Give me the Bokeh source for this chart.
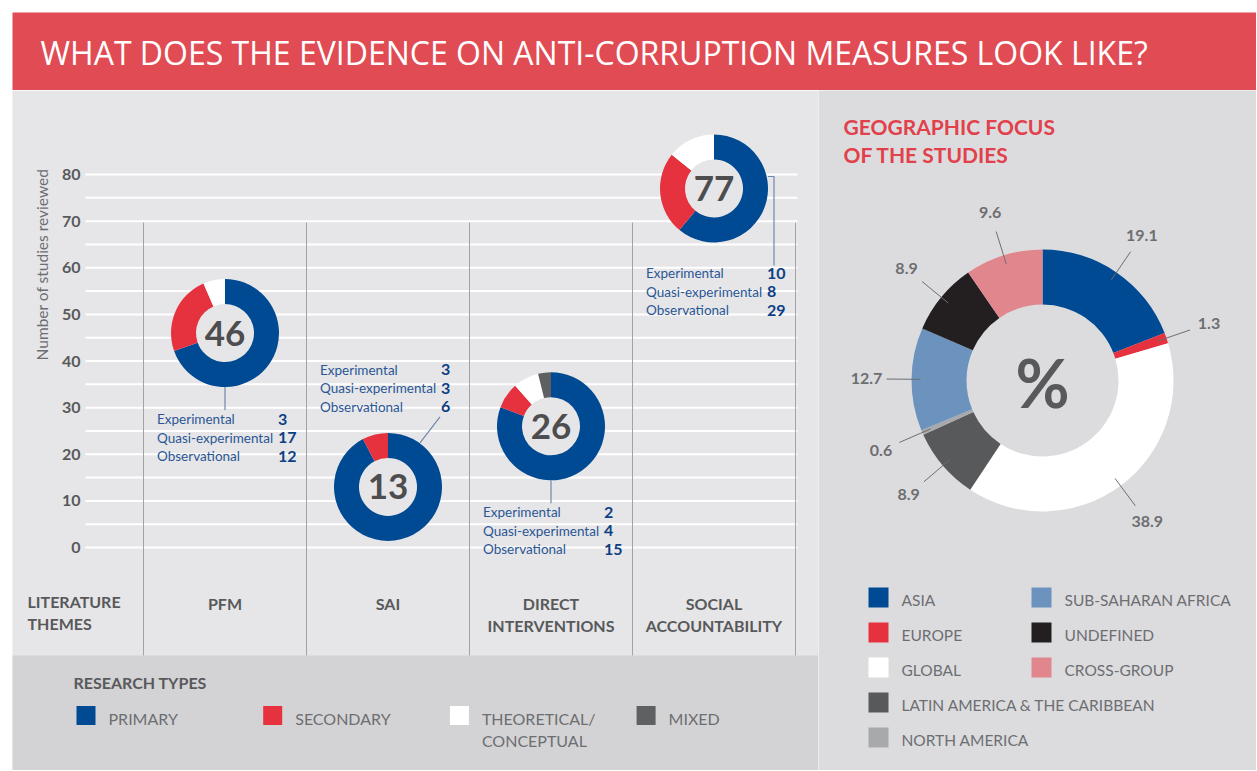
import math
from bokeh.plotting import figure
from bokeh.models import Range1d, LinearAxis, FixedTicker, ColumnDataSource
from bokeh.layouts import column, row
from bokeh.embed import file_html
from bokeh.resources import INLINE
from bokeh.core.properties import value

# ---------------- data ----------------
title_text = "WHAT DOES THE EVIDENCE ON ANTI-CORRUPTION MEASURES LOOK LIKE?"
theme_header = "LITERATURE\nTHEMES"
themes = ["PFM", "SAI", "DIRECT\nINTERVENTIONS", "SOCIAL\nACCOUNTABILITY"]
totals = [46, 13, 26, 77]
primary = [32, 12, 21, 47]
secondary = [11, 1, 2, 19]
theoretical = [3, 0, 2, 11]
mixed = [0, 0, 1, 0]
design_names = ["Experimental", "Quasi-experimental", "Observational"]
experimental = [3, 3, 2, 10]
quasi_experimental = [17, 3, 4, 8]
observational = [12, 6, 15, 29]
y_ticks = [0, 10, 20, 30, 40, 50, 60, 70, 80]
y_axis_title = "Number of studies reviewed"
research_title = "RESEARCH TYPES"
research_types = ["PRIMARY", "SECONDARY", "THEORETICAL/\nCONCEPTUAL", "MIXED"]

geo_title = "GEOGRAPHIC FOCUS\nOF THE STUDIES"
regions = ["ASIA", "EUROPE", "GLOBAL", "LATIN AMERICA & THE CARIBBEAN",
           "NORTH AMERICA", "SUB-SAHARAN AFRICA", "UNDEFINED", "CROSS-GROUP"]
region_share = [19.1, 1.3, 38.9, 8.9, 0.6, 12.7, 8.9, 9.6]

# ---------------- styles ----------------
FONT = "Lato"
research_colors = ["#004a93", "#e5323e", "#ffffff", "#5f6062"]
region_colors = ["#004a93", "#e5323e", "#ffffff", "#58595b",
                 "#a7a9ac", "#6b93bd", "#231f20", "#e2868d"]
RED = "#e14b53"
GRAY_TXT = "#58595b"
LIGHT_TXT = "#6d6e71"
PANEL_L = "#e6e6e8"
PANEL_R = "#dcdcdf"
BAND = "#d3d3d5"
NUM_BLUE = "#0d3f84"
LBL_BLUE = "#2a5694"

W_TOTAL, H_TOTAL = 1256, 770
H_BANNER = 90
W_LEFT = 818

# ---------------- banner ----------------
banner = figure(width=W_TOTAL, height=H_BANNER, x_range=Range1d(0, W_TOTAL), y_range=Range1d(H_BANNER, 0),
                output_backend="svg", toolbar_location=None, min_border=0,
                x_axis_type=None, y_axis_type=None, outline_line_color=None,
                background_fill_color="white", border_fill_color="white")
banner.quad(left=[12], right=[W_TOTAL], top=[12], bottom=[H_BANNER], fill_color=RED, line_color=None)
banner.text(x=[40], y=[52], text=[title_text], text_font=value("Open Sans"),
            text_font_size="32px", text_color="white", text_baseline="middle")

# ---------------- left chart ----------------
COL_W = 163.0     # px per theme column
C1 = 224.5        # px centre of first theme
UNIT = 4.6625     # px per study
ZERO_PX = 547.0   # px of 0 studies


def X(px):
    return 1 + (px - C1) / COL_W


def Y(py):
    return (ZERO_PX - py) / UNIT


def DX(d):
    return d / COL_W


def DY(d):  # downward px offset
    return -d / UNIT


left = figure(width=W_LEFT, height=H_TOTAL - H_BANNER,
              x_range=Range1d(X(0), X(W_LEFT)), y_range=Range1d(Y(H_TOTAL), Y(H_BANNER)),
              output_backend="svg", toolbar_location=None, min_border=0,
              x_axis_type=None, y_axis_type=None, outline_line_color=None,
              background_fill_color="white", border_fill_color="white")

left.quad(left=[X(12)], right=[X(W_LEFT)], bottom=[Y(H_TOTAL)], top=[Y(H_BANNER)], fill_color=PANEL_L, line_color=None)
left.quad(left=[X(12)], right=[X(W_LEFT)], bottom=[Y(H_TOTAL)], top=[Y(655)], fill_color=BAND, line_color=None)

grid_vals = list(range(0, 81, 5))
left.segment(x0=[X(85)] * len(grid_vals), x1=[X(797)] * len(grid_vals), y0=grid_vals, y1=grid_vals,
             line_color="white", line_width=2)

theme_x = [i + 1 for i in range(len(themes))]
seps = [i + 0.5 for i in range(len(themes) + 1)]
left.segment(x0=seps, x1=seps, y0=[Y(222)] * len(seps), y1=[Y(655)] * len(seps),
             line_color="#a3a3a6", line_width=1)

yax = LinearAxis(ticker=FixedTicker(ticks=y_ticks), fixed_location=X(86))
yax.axis_line_color = None
yax.major_tick_line_color = None
yax.minor_tick_line_color = None
yax.major_label_standoff = 0
yax.major_label_text_font = FONT
yax.major_label_text_font_style = "bold"
yax.major_label_text_font_size = "16px"
yax.major_label_text_color = GRAY_TXT
left.add_layout(yax, "left")

left.text(x=[X(41)], y=[Y(264)], text=[y_axis_title], angle=math.pi / 2,
          text_font=value(FONT), text_font_size="15.5px", text_color=LIGHT_TXT,
          text_align="center", text_baseline="middle")

# donuts
wx, wy, ws, we, wc = [], [], [], [], []
for i, parts in enumerate(zip(primary, secondary, theoretical, mixed)):
    tot = totals[i]
    acc = 0
    for k, v in enumerate(parts):
        if v == 0:
            continue
        a0 = acc / tot
        a1 = (acc + v) / tot
        wx.append(theme_x[i])
        wy.append(tot)
        ws.append(math.pi / 2 - 2 * math.pi * a1)
        we.append(math.pi / 2 - 2 * math.pi * a0)
        wc.append(research_colors[k])
        acc += v
left.circle(x=theme_x, y=totals, radius=30, radius_units="screen", fill_color=PANEL_L, line_color=None)
left.annular_wedge(x="x", y="y", inner_radius=29, outer_radius=54,
                   inner_radius_units="screen", outer_radius_units="screen",
                   start_angle="s", end_angle="e", fill_color="c", line_color=None,
                   source=ColumnDataSource(dict(x=wx, y=wy, s=ws, e=we, c=wc)))
left.text(x=theme_x, y=totals, text=[str(t) for t in totals], text_font=value(FONT),
          text_font_style="bold", text_font_size="35px", text_color="#4d4d4f",
          text_align="center", text_baseline="middle")

# leader lines (px offsets from donut centre, downward positive)
leaders_px = [
    [(0, 54), (0, 77)],
    [(32, -44), (52, -70)],
    [(0, 54), (0, 77)],
    [(54, -12), (60, -12), (60, 77)],
]
left.multi_line(xs=[[theme_x[i] + DX(dx) for dx, dy in pts] for i, pts in enumerate(leaders_px)],
                ys=[[totals[i] + DY(dy) for dx, dy in pts] for i, pts in enumerate(leaders_px)],
                line_color="#6f87a8", line_width=1.2)

# study design blocks
first_line_px = [86, -117, 86, 85]
LINE_GAP = 18.5
lx, ly, lt, nx, ny, nt = [], [], [], [], [], []
for i in range(len(themes)):
    for k, vals in enumerate([experimental, quasi_experimental, observational]):
        yy = totals[i] + DY(first_line_px[i] + k * LINE_GAP)
        lx.append(theme_x[i] + DX(-68))
        ly.append(yy)
        lt.append(design_names[k])
        nx.append(theme_x[i] + DX(53))
        ny.append(yy)
        nt.append(str(vals[i]))
left.text(x=lx, y=ly, text=lt, text_font=value(FONT), text_font_size="13.5px",
          text_color=LBL_BLUE, text_baseline="middle")
left.text(x=nx, y=ny, text=nt, text_font=value(FONT), text_font_size="16px", text_font_style="bold",
          text_color=NUM_BLUE, text_baseline="middle")

# category labels
left.text(x=theme_x, y=[Y(593)] * len(themes), text=themes, text_font=value(FONT),
          text_font_style="bold", text_font_size="16px", text_color=GRAY_TXT,
          text_align="center", text_baseline="top", text_line_height=1.18)
left.text(x=[X(27)], y=[Y(591)], text=[theme_header], text_font=value(FONT),
          text_font_style="bold", text_font_size="16px", text_color=GRAY_TXT,
          text_baseline="top", text_line_height=1.18)

# research types legend
left.text(x=[X(73)], y=[Y(682)], text=[research_title], text_font=value(FONT),
          text_font_style="bold", text_font_size="16px", text_color=GRAY_TXT, text_baseline="middle")
sq_px = [85.5 + k * 186.7 for k in range(len(research_types))]
left.scatter(x=[X(p) for p in sq_px], y=[Y(715)] * len(research_types), marker="square", size=19,
             fill_color=research_colors, line_color=None)
left.text(x=[X(p + 22.5) for p in sq_px], y=[Y(708)] * len(research_types), text=research_types,
          text_font=value(FONT), text_font_size="16px", text_color=LIGHT_TXT,
          text_baseline="top", text_line_height=1.2)

# ---------------- right chart ----------------
CX, CY = 1042.0, 380.0


def RX(px):
    return px - CX


def RY(py):
    return CY - py


right = figure(width=W_TOTAL - W_LEFT, height=H_TOTAL - H_BANNER,
               x_range=Range1d(RX(W_LEFT), RX(W_TOTAL)), y_range=Range1d(RY(H_TOTAL), RY(H_BANNER)),
               output_backend="svg", toolbar_location=None, min_border=0,
               x_axis_type=None, y_axis_type=None, outline_line_color=None,
               background_fill_color=PANEL_R, border_fill_color=PANEL_R)

right.text(x=[RX(843)], y=[RY(113)], text=[geo_title], text_font=value(FONT), text_font_style="bold",
           text_font_size="21px", text_color="#e2404a", text_baseline="top", text_line_height=1.12)

tot_share = sum(region_share)
gs, ge, mids = [], [], []
acc = 0.0
for v in region_share:
    a0 = acc / tot_share
    a1 = (acc + v) / tot_share
    gs.append(math.pi / 2 - 2 * math.pi * a1)
    ge.append(math.pi / 2 - 2 * math.pi * a0)
    mids.append(2 * math.pi * (a0 + a1) / 2)
    acc += v
right.annular_wedge(x=[0] * len(regions), y=[0] * len(regions), inner_radius=76, outer_radius=131,
                    start_angle=gs, end_angle=ge, fill_color=region_colors, line_color=None)

R_IN, R_OUT, R_LBL = 122, 156, 176
right.segment(x0=[R_IN * math.sin(t) for t in mids], y0=[R_IN * math.cos(t) for t in mids],
              x1=[R_OUT * math.sin(t) for t in mids], y1=[R_OUT * math.cos(t) for t in mids],
              line_color=LIGHT_TXT, line_width=1)
right.text(x=[R_LBL * math.sin(t) for t in mids], y=[R_LBL * math.cos(t) for t in mids],
           text=[str(v) for v in region_share], text_font=value(FONT), text_font_style="bold",
           text_font_size="16px", text_color=LIGHT_TXT, text_align="center", text_baseline="middle")
right.text(x=[0], y=[-2], text=["%"], text_font=value(FONT), text_font_style="bold",
           text_font_size="66px", text_color=GRAY_TXT, text_align="center", text_baseline="middle")

legend_col = [0, 0, 0, 0, 0, 1, 1, 1]
legend_row = [0, 1, 2, 3, 4, 0, 1, 2]
col_px = [878, 1041]
sqx = [RX(col_px[c]) for c in legend_col]
sqy = [RY(597 + 35 * r) for r in legend_row]
right.scatter(x=sqx, y=sqy, marker="square", size=20, fill_color=region_colors, line_color=None)
right.text(x=[x + 23 for x in sqx], y=[y - 2 for y in sqy], text=regions, text_font=value(FONT),
           text_font_size="15.5px", text_color=LIGHT_TXT, text_baseline="middle")

page = column(banner, row(left, right))
open("out.html", "w").write(file_html(page, INLINE))
